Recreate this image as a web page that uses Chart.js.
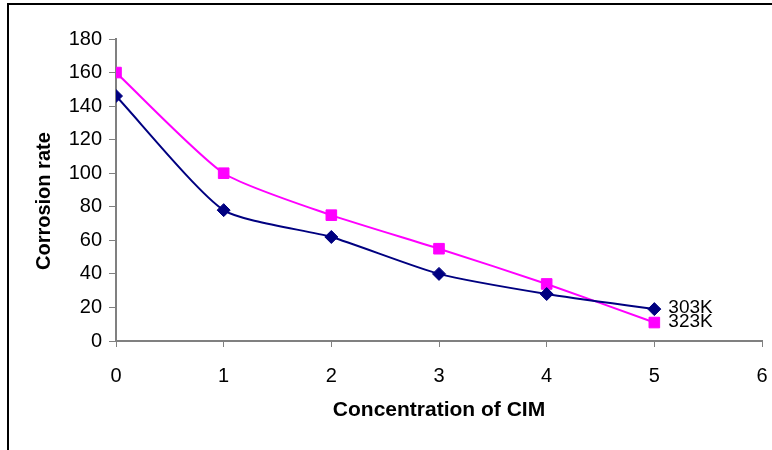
<!DOCTYPE html>
<html>
<head>
<meta charset="utf-8">
<script src="https://cdn.jsdelivr.net/npm/chart.js@4"></script>
<style>
  html, body { margin: 0; padding: 0; background: #ffffff; }
  #wrap { width: 772px; height: 450px; position: relative; }
</style>
</head>
<body>
<div id="wrap"><canvas id="c"></canvas></div>
<script>
// ---- data ----
const concentrations = [0, 1, 2, 3, 4, 5];
const rate303K = [146, 78, 62, 40, 28, 19];
const rate323K = [160, 100, 75, 55, 34, 11];
const seriesNames = ['303K', '323K'];
const xTitle = 'Concentration of CIM';
const yTitle = 'Corrosion rate';

const toPoints = (ys) => concentrations.map((x, i) => ({ x: x, y: ys[i] }));

const framePlugin = {
  id: 'frame',
  beforeDraw(chart) {
    const ctx = chart.ctx;
    ctx.save();
    ctx.fillStyle = '#ffffff';
    ctx.fillRect(0, 0, chart.width, chart.height);
    ctx.strokeStyle = '#000000';
    ctx.lineWidth = 2;
    ctx.beginPath();
    ctx.moveTo(8, chart.height);
    ctx.lineTo(8, 4);
    ctx.lineTo(chart.width, 4);
    ctx.stroke();
    ctx.restore();
  }
};

const endLabelPlugin = {
  id: 'endLabels',
  afterDatasetsDraw(chart) {
    const ctx = chart.ctx;
    ctx.save();
    ctx.font = '19px "Liberation Sans", Arial, sans-serif';
    ctx.fillStyle = '#000000';
    ctx.textAlign = 'left';
    ctx.textBaseline = 'middle';
    chart.data.datasets.forEach((ds, i) => {
      const meta = chart.getDatasetMeta(i);
      const pt = meta.data[meta.data.length - 1];
      ctx.fillText(ds.label, pt.x + 14, pt.y - 1);
    });
    ctx.restore();
  }
};

new Chart(document.getElementById('c'), {
  type: 'line',
  data: {
    datasets: [
      {
        label: seriesNames[0],
        data: toPoints(rate303K),
        borderColor: '#000080',
        backgroundColor: '#000080',
        borderWidth: 2,
        pointStyle: 'rectRot',
        pointRadius: 6.5,
        pointBorderWidth: 1,
        pointHoverRadius: 6.5,
        tension: 0.2,
        fill: false
      },
      {
        label: seriesNames[1],
        data: toPoints(rate323K),
        borderColor: '#FF00FF',
        backgroundColor: '#FF00FF',
        borderWidth: 2,
        pointStyle: 'rect',
        pointRadius: 7.5,
        pointBorderWidth: 1,
        pointHoverRadius: 7.5,
        tension: 0.2,
        fill: false
      }
    ]
  },
  options: {
    responsive: true,
    maintainAspectRatio: false,
    animation: false,
    layout: { padding: { left: 0, top: 39, right: 10, bottom: 0 } },
    plugins: {
      legend: { display: false },
      tooltip: { enabled: false }
    },
    scales: {
      x: {
        type: 'linear',
        min: 0,
        max: 6,
        afterFit(scale) {
          scale.height = 109;
          scale.paddingLeft = 0;
          scale.paddingRight = 0;
        },
        ticks: {
          stepSize: 1,
          color: '#000000',
          padding: 17,
          maxRotation: 0,
          font: { family: '"Liberation Sans", Arial, sans-serif', size: 20 }
        },
        grid: { drawOnChartArea: false, drawTicks: true, tickLength: 6, color: '#808080' },
        border: { display: true, color: '#808080', width: 2 },
        title: {
          display: true,
          text: xTitle,
          color: '#000000',
          padding: { top: 0, bottom: 27 },
          font: { family: '"Liberation Sans", Arial, sans-serif', size: 21, weight: 'bold' }
        }
      },
      y: {
        type: 'linear',
        min: 0,
        max: 180,
        afterFit(scale) { scale.width = 116; },
        ticks: {
          stepSize: 20,
          color: '#000000',
          padding: 7,
          font: { family: '"Liberation Sans", Arial, sans-serif', size: 20 }
        },
        grid: { drawOnChartArea: false, drawTicks: true, tickLength: 7, color: '#808080' },
        border: { display: true, color: '#808080', width: 2 },
        title: {
          display: true,
          text: yTitle + '    ',
          color: '#000000',
          padding: { top: 32, bottom: 0 },
          font: { family: '"Liberation Sans", Arial, sans-serif', size: 20, weight: 'bold' }
        }
      }
    }
  },
  plugins: [framePlugin, endLabelPlugin]
});
</script>
</body>
</html>
